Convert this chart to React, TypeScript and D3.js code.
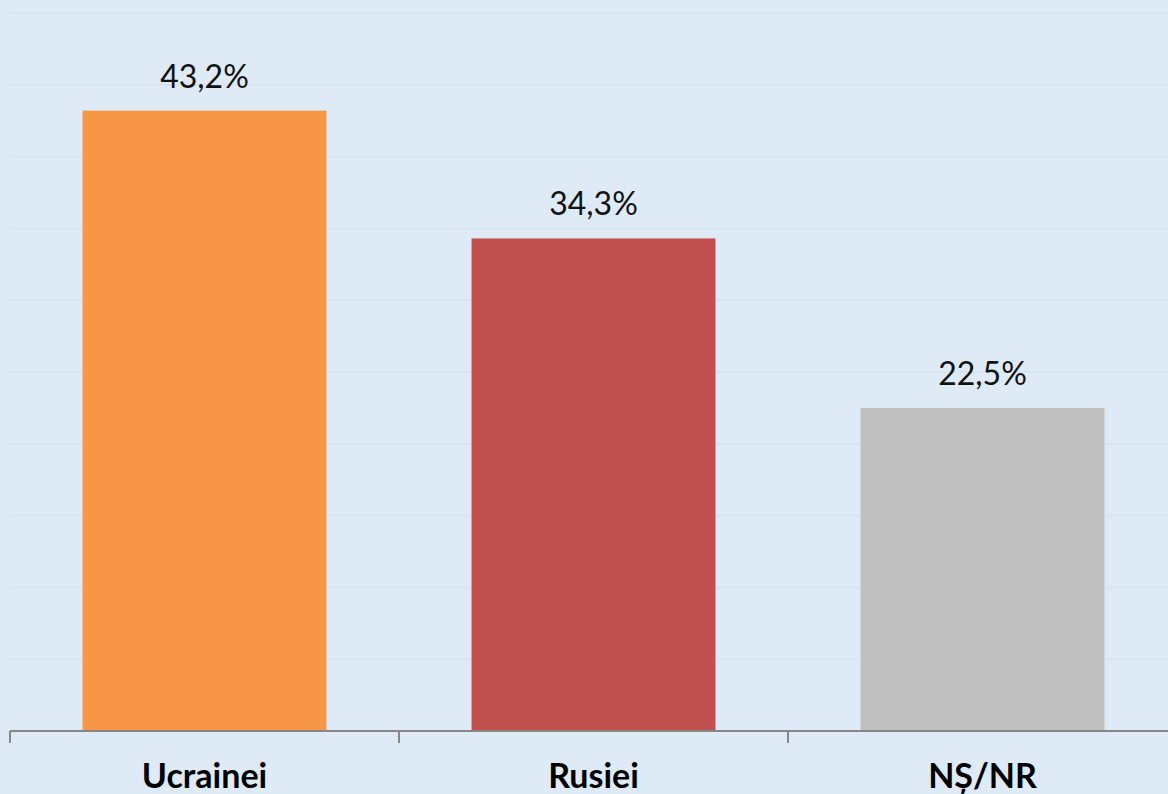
import React from "react";
import * as d3 from "d3";

const categories = ["Ucrainei", "Rusiei", "NȘ/NR"];
const values = [43.2, 34.3, 22.5];
const valueLabels = ["43,2%", "34,3%", "22,5%"];
const colors = ["#f79646", "#c0504d", "#bfbfbf"];
const gridTicks = [5, 10, 15, 20, 25, 30, 35, 40, 45, 50];

const W = 1168;
const H = 794;

export default function App() {
  const x = d3.scaleBand<string>().domain(categories).range([10, 1177]).paddingInner(0.373).paddingOuter(0.373 / 2);
  const y = d3.scaleLinear().domain([0, 50]).range([731, 13]);
  const step = x.step();
  const tickXs = categories.map((_, i) => 10 + i * step).concat([10 + categories.length * step]);
  return (
    <svg width={W} height={H} style={{ position: "fixed", left: 0, top: 0, display: "block" }}>
      <rect x={0} y={0} width={W} height={H} fill="#deeaf6" />
      {gridTicks.map((t) => (
        <line key={t} x1={10} x2={1177} y1={y(t)} y2={y(t)} stroke="#d5e2ef" strokeWidth={1.5} />
      ))}
      {categories.map((c, i) => (
        <rect key={c} x={x(c)} y={y(values[i])} width={x.bandwidth()} height={y(0) - y(values[i])} fill={colors[i]} />
      ))}
      <line x1={10} x2={1177} y1={y(0)} y2={y(0)} stroke="#878787" strokeWidth={2} />
      {tickXs.map((tx, i) => (
        <line key={i} x1={tx} x2={tx} y1={y(0)} y2={y(0) + 12} stroke="#878787" strokeWidth={2} />
      ))}
      {categories.map((c, i) => (
        <text
          key={"v" + c}
          x={(x(c) as number) + x.bandwidth() / 2}
          y={y(values[i]) - 23}
          textAnchor="middle"
          fontFamily="Lato, 'Open Sans', sans-serif"
          fontSize={32}
          fill="#111"
        >
          {valueLabels[i]}
        </text>
      ))}
      {categories.map((c, i) => (
        <text
          key={"c" + c}
          x={(x(c) as number) + x.bandwidth() / 2}
          y={788}
          textAnchor="middle"
          fontFamily="Lato, 'Open Sans', sans-serif"
          fontWeight="bold"
          fontSize={34}
          fill="#000"
        >
          {c}
        </text>
      ))}
    </svg>
  );
}
